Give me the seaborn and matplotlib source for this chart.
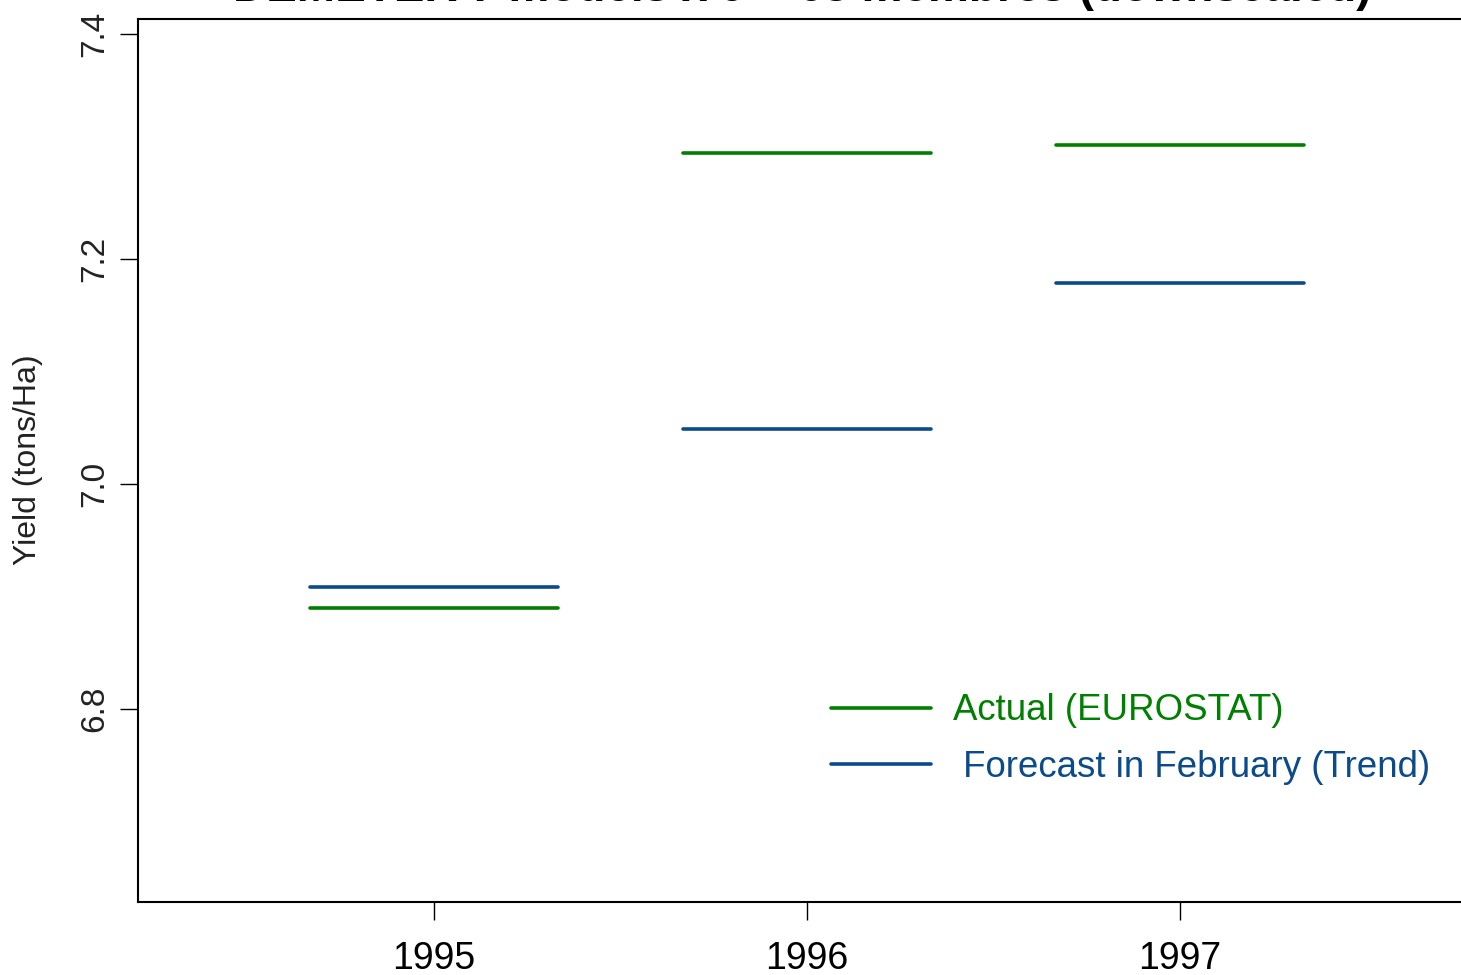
import numpy as np
import pandas as pd
import matplotlib
matplotlib.use("Agg")
import matplotlib.pyplot as plt
import seaborn as sns
from matplotlib.lines import Line2D

# Yield per year: observed vs. forecast issued in February
years = [1995, 1996, 1997]
actual = [6.890, 7.294, 7.301]
forecast = [6.908, 7.049, 7.179]
series_names = ["Actual (EUROSTAT)", " Forecast in February (Trend)"]
series_colors = ["#008000", "#0b4a8b"]
title = "DEMETER 7 models x 9 = 63 membres (downscaled)"
ylabel = "Yield (tons/Ha)"
yticks = [6.8, 7.0, 7.2, 7.4]

# each yearly value is drawn as a horizontal segment centred on the year
half = 1 / 3
rows = []
for name, vals in zip(series_names, [actual, forecast]):
    for yr, v in zip(years, vals):
        for dx in (-half, half):
            rows.append({"series": name, "year": yr, "x": yr + dx, "yield": v})
df = pd.DataFrame(rows)

sns.set_style("white")
plt.rcParams["font.family"] = ["Liberation Sans", "DejaVu Sans"]

W, H = 1461, 975
fig = plt.figure(figsize=(W / 100, H / 100), dpi=100)
ax = fig.add_axes([138 / W, 1 - 902 / H, 1 - 138 / W, (902 - 19) / H])

palette = dict(zip(series_names, series_colors))
sns.lineplot(data=df, x="x", y="yield", hue="series", units="year",
             estimator=None, sort=False, palette=palette, linewidth=2.6,
             legend=False, ax=ax)

ax.set_xlim(1994.206, 1997.7534)
ax.set_ylim(6.6284, 7.4133)
ax.set_xticks(years)
ax.set_xticklabels([str(y) for y in years])
ax.set_yticks(yticks)
ax.set_yticklabels([f"{t:.1f}" for t in yticks])
ax.set_xlabel("")
ax.set_ylabel("")

for side in ("left", "bottom", "top"):
    ax.spines[side].set_visible(True)
    ax.spines[side].set_color("black")
    ax.spines[side].set_linewidth(1.5)
ax.spines["right"].set_visible(False)

ax.tick_params(axis="x", which="major", bottom=True, length=13, width=1.0,
               color="black", labelsize=27, pad=15, labelcolor="black")
ax.tick_params(axis="y", which="major", left=True, length=13, width=1.0,
               color="black", labelsize=24, pad=7, labelcolor="#222222",
               labelrotation=90)
for lab in ax.get_yticklabels():
    lab.set_verticalalignment("center")

handles = [Line2D([0], [0], color=c, lw=2.6) for c in series_colors]
leg = ax.legend(handles, series_names, loc="center left",
                bbox_to_anchor=(831 / W, 1 - 739 / H),
                bbox_transform=fig.transFigure, frameon=False,
                fontsize=26.4, handlelength=2.74, handletextpad=0.6,
                labelspacing=0.58, borderpad=0, borderaxespad=0)
for txt, c in zip(leg.get_texts(), series_colors):
    txt.set_color(c)

# the heading sits mostly above the top edge of the figure
fig.text(802.5 / W, 1 - 1 / H, title, ha="center", va="baseline",
         fontsize=33, fontweight="bold", color="black")
fig.text(28 / W, 1 - 460 / H, ylabel, ha="center", va="center",
         rotation=90, fontsize=23, color="#222222")

fig.savefig("out.png", dpi=100)
